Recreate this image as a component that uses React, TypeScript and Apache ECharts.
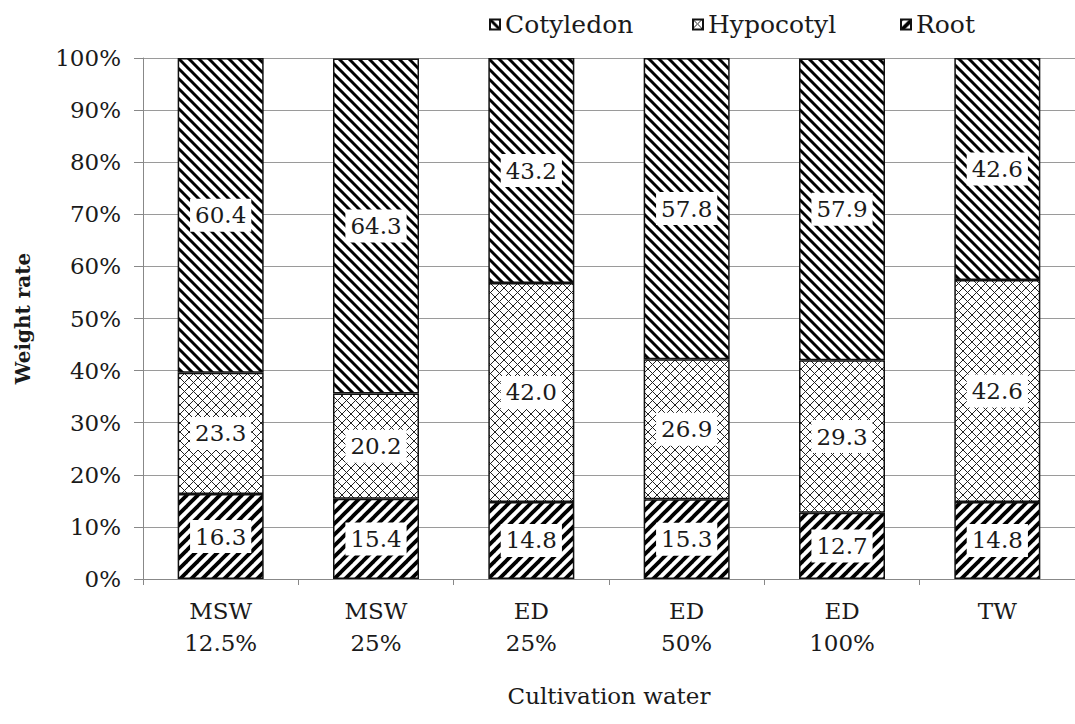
import React, { useEffect, useRef } from "react";
import * as echarts from "echarts";

const categories = ["MSW\n12.5%", "MSW\n25%", "ED\n25%", "ED\n50%", "ED\n100%", "TW"];
const rootValues = [16.3, 15.4, 14.8, 15.3, 12.7, 14.8];
const hypocotylValues = [23.3, 20.2, 42.0, 26.9, 29.3, 42.6];
const cotyledonValues = [60.4, 64.3, 43.2, 57.8, 57.9, 42.6];
const yTicks = { min: 0, max: 100, interval: 10 };

function makePattern(kind: "back" | "fwd" | "cross", s: number, lw: number, color: string) {
  const c = document.createElement("canvas");
  c.width = s;
  c.height = s;
  const ctx = c.getContext("2d")!;
  ctx.fillStyle = "#ffffff";
  ctx.fillRect(0, 0, s, s);
  ctx.strokeStyle = color;
  ctx.lineWidth = lw;
  ctx.lineCap = "square";
  const drawBack = () => {
    for (let k = -1; k <= 1; k++) {
      ctx.beginPath();
      ctx.moveTo(k * s, 0);
      ctx.lineTo(k * s + s, s);
      ctx.stroke();
    }
  };
  const drawFwd = () => {
    for (let k = -1; k <= 1; k++) {
      ctx.beginPath();
      ctx.moveTo(k * s, s);
      ctx.lineTo(k * s + s, 0);
      ctx.stroke();
    }
  };
  if (kind === "back") drawBack();
  else if (kind === "fwd") drawFwd();
  else {
    drawBack();
    drawFwd();
  }
  return { image: c.toDataURL(), repeat: "repeat", imageWidth: s, imageHeight: s } as any;
}

export default function App() {
  const ref = useRef<HTMLDivElement>(null);
  useEffect(() => {
    if (!ref.current) return;
    const chart = echarts.init(ref.current, null, { renderer: "svg" });
    const serif = "DejaVu Serif";
    const pCot = makePattern("back", 10, 3, "#000");
    const pHyp = makePattern("cross", 9, 1, "#222");
    const pRoot = makePattern("fwd", 11, 3.8, "#000");
    const labelStyle = {
      show: true,
      position: "inside",
      formatter: (p: any) => Number(p.value).toFixed(1),
      fontFamily: serif,
      fontSize: 23,
      lineHeight: 23,
      color: "#1a1a1a",
      backgroundColor: "#ffffff",
      padding: [5, 5],
    };
    const mk = (name: string, data: number[], pattern: any) => ({
      name,
      type: "bar",
      stack: "total",
      data,
      barWidth: 86,
      itemStyle: { color: pattern, borderColor: "#111", borderWidth: 1.5 },
      label: labelStyle,
      emphasis: { disabled: true },
    });
    const legendCommon = {
      top: 7,
      icon: "rect",
      itemWidth: 10,
      itemHeight: 10,
      itemGap: 2,
      textStyle: { fontFamily: serif, fontSize: 25, color: "#1a1a1a", padding: [0, 0, 0, 0] },
      selectedMode: false,
    };
    chart.setOption({
      animation: false,
      backgroundColor: "#ffffff",
      grid: { left: 143, top: 58, width: 938, height: 521, containLabel: false },
      legend: [
        { ...legendCommon, left: 484, data: ["Cotyledon"] },
        { ...legendCommon, left: 687, data: ["Hypocotyl"] },
        { ...legendCommon, left: 895, data: ["Root"] },
      ],
      xAxis: {
        type: "category",
        data: categories,
        name: "Cultivation water",
        nameLocation: "middle",
        nameGap: 105,
        nameTextStyle: { fontFamily: serif, fontSize: 23, color: "#1a1a1a" },
        axisLine: { lineStyle: { color: "#888", width: 1 } },
        axisTick: { show: true, length: 6, lineStyle: { color: "#888" } },
        axisLabel: { fontFamily: serif, fontSize: 23, lineHeight: 32, color: "#1a1a1a", margin: 16, interval: 0 },
      },
      yAxis: {
        type: "value",
        min: yTicks.min,
        max: yTicks.max,
        interval: yTicks.interval,
        name: "Weight rate",
        nameLocation: "middle",
        nameGap: 110,
        nameTextStyle: { fontFamily: serif, fontSize: 20, fontWeight: "bold", color: "#1a1a1a" },
        axisLine: { show: true, lineStyle: { color: "#888", width: 1 } },
        axisTick: { show: true, length: 9, lineStyle: { color: "#888" } },
        axisLabel: { formatter: "{value}%", fontFamily: serif, fontSize: 23, color: "#1a1a1a", margin: 22 },
        splitLine: { show: true, lineStyle: { color: "#9a9a9a", width: 1 } },
      },
      series: [
        mk("Root", rootValues, pRoot),
        mk("Hypocotyl", hypocotylValues, pHyp),
        mk("Cotyledon", cotyledonValues, pCot),
      ],
    });
    return () => chart.dispose();
  }, []);
  return (
    <div
      ref={ref}
      style={{ position: "fixed", left: 0, top: 0, width: 1075, height: 724, background: "#fff" }}
    />
  );
}
